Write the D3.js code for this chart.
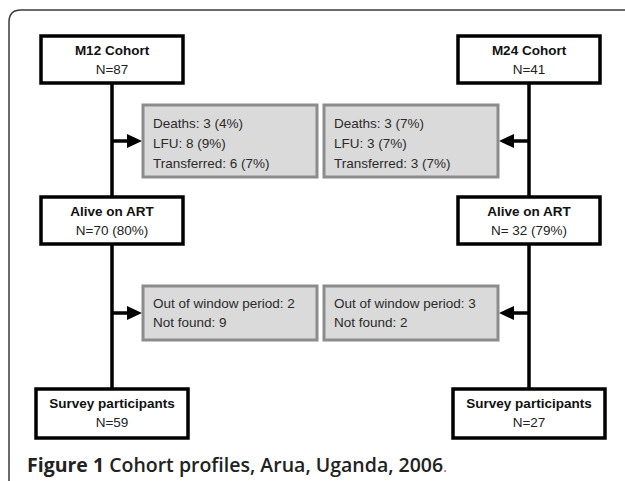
<!DOCTYPE html>
<meta charset="utf-8">
<style>
body { margin:0; background:#fff; overflow:hidden; }
text { font-family:'Liberation Sans', Arial, sans-serif; }
.caption { font-family:'Open Sans', sans-serif; }
</style>
<svg width="625" height="481"></svg>
<script src="https://d3js.org/d3.v7.min.js"></script>
<script>

// flow chart contents, one entry per cohort (left, right)
var cohortTitles = ['M12 Cohort', 'M24 Cohort'];
var cohortN = ['N=87', 'N=41'];
var aliveTitles = ['Alive on ART', 'Alive on ART'];
var aliveN = ['N=70 (80%)', 'N= 32 (79%)'];
var surveyTitles = ['Survey participants', 'Survey participants'];
var surveyN = ['N=59', 'N=27'];
var lostLines = [
    ['Deaths: 3 (4%)', 'LFU: 8 (9%)', 'Transferred: 6 (7%)'],
    ['Deaths: 3 (7%)', 'LFU: 3 (7%)', 'Transferred: 3 (7%)']
];
var excludedLines = [
    ['Out of window period: 2', 'Not found: 9'],
    ['Out of window period: 3', 'Not found: 2']
];
var captionBold = 'Figure 1';
var captionRest = ' Cohort profiles, Arua, Uganda, 2006';

var svg = d3.select('svg');

// column centre for each cohort, rows for the steps
var x = d3.scalePoint().domain([0, 1]).range([112, 529]);
var y = d3.scaleOrdinal()
    .domain(['cohort', 'lost', 'alive', 'excluded', 'survey'])
    .range([36, 105, 197, 286, 389]);

var boxW = 142, boxH = 47, surveyW = 152, surveyH = 49;
var grayW = 174, grayGap = 31, lineH = 20;

// outer frame with rounded corner
svg.append('path')
    .attr('d', 'M9,481 L9,22 Q9,10 21,10 L625,10')
    .attr('fill', 'none')
    .attr('stroke', '#3a3a3a')
    .attr('stroke-width', 1.5)

var cols = svg.selectAll('g.col')
    .data([0, 1])
    .enter().append('g')
    .attr('class', 'col')

// vertical connectors
cols.append('line')
    .attr('x1', function(i) { return x(i) })
    .attr('x2', function(i) { return x(i) })
    .attr('y1', y('cohort') + boxH)
    .attr('y2', y('survey'))
    .attr('stroke', '#000')
    .attr('stroke-width', 3.5)

function grayLeft(i) {
    return i === 0 ? x(i) + grayGap : x(i) - grayGap - grayW
}

function arrowAt(sel, row, h) {
    var yy = y(row) + h / 2;
    sel.append('line')
        .attr('x1', function(i) { return x(i) })
        .attr('x2', function(i) { return i === 0 ? x(i) + grayGap - 14 : x(i) - grayGap + 14 })
        .attr('y1', yy).attr('y2', yy)
        .attr('stroke', '#000')
        .attr('stroke-width', 3.5)
    sel.append('path')
        .attr('d', function(i) {
            var tip = i === 0 ? x(i) + grayGap - 1 : x(i) - grayGap + 1;
            var base = i === 0 ? tip - 15 : tip + 15;
            return 'M' + tip + ',' + yy + 'L' + base + ',' + (yy - 7) + 'L' + base + ',' + (yy + 7) + 'Z'
        })
        .attr('fill', '#000')
}

function grayBox(sel, row, h, lines) {
    sel.append('rect')
        .attr('x', grayLeft)
        .attr('y', y(row))
        .attr('width', grayW)
        .attr('height', h)
        .attr('fill', '#dadada')
        .attr('stroke', '#8c8c8c')
        .attr('stroke-width', 3)
    sel.append('text')
        .attr('font-size', 13.5)
        .attr('fill', '#2a2a2a')
        .selectAll('tspan')
        .data(function(i) { return lines[i].map(function(t) { return {t: t, i: i} }) })
        .enter().append('tspan')
        .attr('x', function(d) { return grayLeft(d.i) + 10 })
        .attr('y', function(d, k) { return y(row) + (h > 60 ? 23 : 22) + k * (h > 60 ? lineH : 19) })
        .text(function(d) { return d.t })
}

function whiteBox(sel, row, w, h, titles, counts) {
    sel.append('rect')
        .attr('x', function(i) { return x(i) - w / 2 })
        .attr('y', y(row))
        .attr('width', w)
        .attr('height', h)
        .attr('fill', '#fff')
        .attr('stroke', '#000')
        .attr('stroke-width', 3.5)
    sel.append('text')
        .attr('x', function(i) { return x(i) })
        .attr('y', y(row) + 18.5)
        .attr('text-anchor', 'middle')
        .attr('font-size', 13.5)
        .attr('font-weight', 'bold')
        .attr('fill', '#111')
        .text(function(i) { return titles[i] })
    sel.append('text')
        .attr('x', function(i) { return x(i) })
        .attr('y', y(row) + 38)
        .attr('text-anchor', 'middle')
        .attr('font-size', 13.5)
        .attr('fill', '#222')
        .text(function(i) { return counts[i] })
}

arrowAt(cols, 'lost', 72);
arrowAt(cols, 'excluded', 54);
grayBox(cols, 'lost', 72, lostLines);
grayBox(cols, 'excluded', 54, excludedLines);
whiteBox(cols, 'cohort', boxW, boxH, cohortTitles, cohortN);
whiteBox(cols, 'alive', boxW, boxH, aliveTitles, aliveN);
whiteBox(cols, 'survey', surveyW, surveyH, surveyTitles, surveyN);

var cap = svg.append('text')
    .attr('class', 'caption')
    .attr('x', 27)
    .attr('y', 472)
    .attr('font-size', 19.5)
    .attr('fill', '#222')
cap.append('tspan').attr('font-weight', 700).text(captionBold)
cap.append('tspan').attr('font-weight', 600).text(captionRest)
cap.append('tspan').attr('font-weight', 400).attr('font-size', 14).attr('fill', '#c05030').text('.')

</script>
